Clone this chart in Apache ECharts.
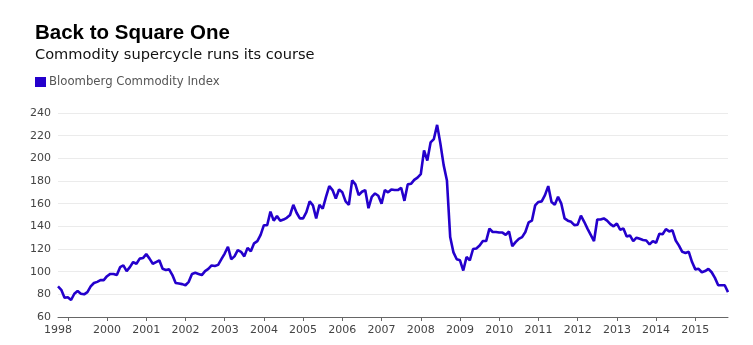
<!DOCTYPE html>
<html>
<head>
<meta charset="utf-8">
<script src="https://cdn.jsdelivr.net/npm/echarts@6/dist/echarts.min.js"></script>
<style>
html,body{margin:0;padding:0;background:#fff;}
#chart{width:753px;height:345px;}
</style>
</head>
<body>
<div id="chart"></div>
<script>
// Chart texts
const titleText = 'Back to Square One';
const subtitleText = 'Commodity supercycle runs its course';
const seriesName = 'Bloomberg Commodity Index';

// Monthly series: first value is October 1998, last is October/November 2015
const startYear = 1998;
const startMonth = 10; // October
const indexValues = [
  87, 84, 77, 77.5, 75, 80.5, 83, 80.5, 80, 82,
  87, 90, 91, 92.5, 92.5, 96, 98, 98, 97, 104,
  105.5, 100.5, 104, 108.5, 107, 111.5, 112, 115.5, 111.5, 107,
  108.5, 110, 102.5, 101.5, 102, 97, 90, 89.5, 89, 88,
  91, 98, 99, 98, 97, 100.5, 102.5, 105.5, 105, 106,
  111, 116, 122, 111, 113.5, 119, 117.5, 113.5, 121, 118,
  125, 127, 132.5, 141, 141, 153, 145, 149, 145, 146,
  147.5, 150, 159, 152, 147, 147, 152.5, 162, 158.5, 147,
  159, 155.5, 166, 175.5, 172, 164.5, 172.5, 170, 162, 159,
  180.5, 177, 167.5, 170.5, 172, 156, 166, 169, 167, 160,
  172, 170, 172.5, 172, 172, 174, 162.5, 177, 177.5, 181,
  183, 186, 207, 198, 214, 217, 229.5, 213, 194, 180.5,
  130.5, 117, 111, 110, 101, 113, 110, 120, 120.5, 123,
  127, 127, 138, 135, 135, 134.5, 134.5, 132.5, 135.5, 122.5,
  126, 129, 130.5, 135, 143.5, 145, 158.5, 161.5, 162, 167.5,
  175.5, 161.5, 159, 166, 160, 147, 145, 144, 141, 141.5,
  149.5, 144, 138, 132.5, 127, 146, 146, 147, 145, 142,
  140, 142.5, 137, 138, 131, 132, 127, 130, 129, 128,
  127.5, 124, 127, 125.5, 133.5, 133, 137.5, 135.5, 136.5, 127.5,
  123, 117.5, 116.5, 117.5, 108.5, 102, 102.5, 99.5, 100.5, 102.5,
  99.5, 94.5, 88, 88, 88, 82
];

// Axis ticks / labels
const tickYears = [1999, 2000, 2001, 2002, 2003, 2004, 2005, 2006, 2007, 2008, 2009, 2010, 2011, 2012, 2013, 2014, 2015];
const labelYears = [2000, 2001, 2002, 2003, 2004, 2005, 2006, 2007, 2008, 2009, 2010, 2011, 2012, 2013, 2014, 2015];
const firstLabel = '1998';
const yMin = 60, yMax = 240, yStep = 20;

// month index of January of a given year, relative to the first data month
function janIndex(y) { return (y - startYear) * 12 - (startMonth - 1); }

const seriesData = indexValues.map((v, i) => [i, v]);
const lastIndex = indexValues.length - 1;
const tickPos = tickYears.map(janIndex);
const labelPos = [0].concat(labelYears.map(janIndex));
const labelMap = {0: firstLabel};
labelYears.forEach(y => { labelMap[janIndex(y)] = String(y); });

const chart = echarts.init(document.getElementById('chart'), null, {renderer: 'canvas'});
const LINE = '#2400cc';
chart.setOption({
  animation: false,
  backgroundColor: '#ffffff',
  title: [
    {
      text: titleText, left: 35, top: 23, padding: 0,
      textStyle: {fontFamily: 'Liberation Sans', fontWeight: 'bold', fontSize: 20.5, color: '#000'}
    },
    {
      text: subtitleText, left: 35, top: 48, padding: 0,
      textStyle: {fontFamily: 'DejaVu Sans', fontWeight: 'normal', fontSize: 14.6, color: '#111'}
    }
  ],
  legend: {
    left: 35, top: 76, padding: 0,
    icon: 'rect', itemWidth: 11, itemHeight: 10,
    data: [seriesName],
    textStyle: {fontFamily: 'DejaVu Sans', fontSize: 11.7, color: '#555', padding: [0, 0, 0, -2]}
  },
  grid: {left: 58, right: 25, top: 113, bottom: 28, containLabel: false},
  xAxis: {
    type: 'value', min: 0, max: lastIndex,
    axisLine: {show: true, lineStyle: {color: '#666', width: 1}},
    axisTick: {show: true, customValues: tickPos, length: 4, inside: false, lineStyle: {color: '#666'}},
    axisLabel: {
      customValues: labelPos,
      formatter: v => labelMap[v] || '',
      fontFamily: 'DejaVu Sans', fontSize: 11, color: '#444', margin: 8
    },
    splitLine: {show: false}
  },
  yAxis: {
    type: 'value', min: yMin, max: yMax, interval: yStep,
    axisLine: {show: false}, axisTick: {show: false},
    axisLabel: {fontFamily: 'DejaVu Sans', fontSize: 11, color: '#444', margin: 7},
    splitLine: {show: true, lineStyle: {color: '#ebebeb', width: 1}}
  },
  series: [{
    name: seriesName, type: 'line', data: seriesData,
    showSymbol: false, symbol: 'none',
    lineStyle: {color: LINE, width: 2.6},
    itemStyle: {color: LINE}
  }]
});
</script>
</body>
</html>
